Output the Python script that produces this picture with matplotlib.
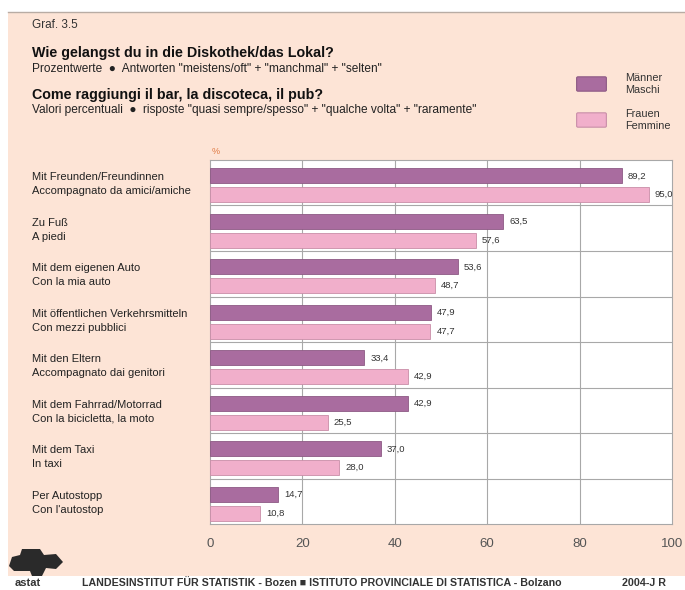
import numpy as np
import matplotlib.pyplot as plt
import matplotlib.transforms as mtransforms
from matplotlib.patches import Rectangle, FancyBboxPatch, Polygon

plt.rcParams["font.family"] = ["Liberation Sans", "DejaVu Sans"]

labels_de = ["Mit Freunden/Freundinnen", "Zu Fuß", "Mit dem eigenen Auto",
             "Mit öffentlichen Verkehrsmitteln", "Mit den Eltern",
             "Mit dem Fahrrad/Motorrad", "Mit dem Taxi", "Per Autostopp"]
labels_it = ["Accompagnato da amici/amiche", "A piedi", "Con la mia auto",
             "Con mezzi pubblici", "Accompagnato dai genitori",
             "Con la bicicletta, la moto", "In taxi", "Con l'autostop"]
maenner = [89.2, 63.5, 53.6, 47.9, 33.4, 42.9, 37.0, 14.7]
frauen = [95.0, 57.6, 48.7, 47.7, 42.9, 25.5, 28.0, 10.8]
xticks = [0, 20, 40, 60, 80, 100]

c_m = "#a96c9f"
c_f = "#f1afcb"
bg = "#fde4d6"

fig = plt.figure(figsize=(6.85, 5.90), dpi=100)
W, H = 685, 590


def fx(px):
    return px / W


def fy(py):
    return 1 - py / H


# peach panel
fig.patches.append(Rectangle((fx(8), fy(576)), 1 - fx(8), fy(12) - fy(576),
                             transform=fig.transFigure, facecolor=bg,
                             edgecolor="none", zorder=-5))
fig.lines.append(plt.Line2D([fx(8), 1], [fy(12), fy(12)], transform=fig.transFigure,
                            color="#b8aca4", lw=1, zorder=-4))

ax = fig.add_axes([fx(210), fy(524), fx(672 - 210), fy(160) - fy(524)])
ax.set_zorder(2)
ax.set_facecolor("white")
n = len(maenner)
idx = np.arange(n)
h = 0.33
ax.barh(idx + 0.35, maenner, height=h, color=c_m, edgecolor="#8d5a84", lw=0.6, zorder=3)
ax.barh(idx + 0.76, frauen, height=h, color=c_f, edgecolor="#c98ea8", lw=0.6, zorder=3)
ax.set_xlim(0, 100)
ax.set_ylim(n, 0)

lab_tr = mtransforms.blended_transform_factory(fig.transFigure, ax.transData)
for i in range(n):
    ax.text(maenner[i] + 1.3, i + 0.35, f"{maenner[i]:.1f}".replace(".", ","),
            va="center", ha="left", fontsize=6.8, color="#333333", zorder=4,
            clip_on=False)
    ax.text(frauen[i] + 1.3, i + 0.76, f"{frauen[i]:.1f}".replace(".", ","),
            va="center", ha="left", fontsize=6.8, color="#333333", zorder=4,
            clip_on=False)
    ax.text(fx(32), i + 0.38, labels_de[i], fontsize=8, va="center", ha="left",
            color="#222222", transform=lab_tr, clip_on=False)
    ax.text(fx(32), i + 0.69, labels_it[i], fontsize=8, va="center", ha="left",
            color="#222222", transform=lab_tr, clip_on=False)

ax.set_xticks(xticks)
ax.set_yticks([])
for x in xticks[1:-1]:
    ax.axvline(x, color="#a8a8a8", lw=0.8, zorder=1)
for i in range(1, n):
    ax.axhline(i, color="#a8a8a8", lw=0.8, zorder=1)
for s in ax.spines.values():
    s.set_color("#a8a8a8")
    s.set_linewidth(0.8)
ax.tick_params(axis="x", length=0, pad=10, labelsize=9.5, labelcolor="#555555")

fig.text(fx(212), fy(151), "%", fontsize=6.5, color="#e07840", va="center")

# titles
fig.text(fx(32), fy(25), "Graf. 3.5", fontsize=8.5, va="center", color="#333333")
fig.text(fx(32), fy(53), "Wie gelangst du in die Diskothek/das Lokal?", fontsize=10.3,
         fontweight="bold", va="center", color="#111111")
fig.text(fx(32), fy(69), "Prozentwerte  \u25CF  Antworten \"meistens/oft\" + \"manchmal\" + \"selten\"",
         fontsize=8.6, va="center", color="#222222")
fig.text(fx(32), fy(95), "Come raggiungi il bar, la discoteca, il pub?", fontsize=10.3,
         fontweight="bold", va="center", color="#111111")
fig.text(fx(32), fy(110), "Valori percentuali  \u25CF  risposte \"quasi sempre/spesso\" + \"qualche volta\" + \"raramente\"",
         fontsize=8.6, va="center", color="#222222")

# legend
for yc, col, ec, t1, t2 in [(84, c_m, "#8d5a84", "Männer", "Maschi"),
                            (120, c_f, "#c98ea8", "Frauen", "Femmine")]:
    fig.patches.append(FancyBboxPatch((fx(578), fy(yc + 6)), fx(27), fy(yc - 6) - fy(yc + 6),
                                      boxstyle="round,pad=0.002", transform=fig.transFigure,
                                      facecolor=col, edgecolor=ec, lw=0.8))
    fig.text(fx(625), fy(yc - 6), t1, fontsize=7.8, va="center", color="#333333")
    fig.text(fx(625), fy(yc + 6), t2, fontsize=7.8, va="center", color="#333333")

# logo approximation
logo = Polygon([[fx(9), fy(566)], [fx(12), fy(557)], [fx(20), fy(555)], [fx(22), fy(549)],
                [fx(40), fy(549)], [fx(44), fy(555)], [fx(56), fy(554)], [fx(63), fy(562)],
                [fx(56), fy(569)], [fx(46), fy(568)], [fx(42), fy(576)], [fx(32), fy(576)],
                [fx(30), fy(571)], [fx(14), fy(571)]], closed=True,
               transform=fig.transFigure, facecolor="#2a2a2a", edgecolor="none")
fig.patches.append(logo)

fig.text(fx(15), fy(583), "astat", fontsize=8, fontweight="bold", va="center", color="#333333")
fig.text(fx(82), fy(583), "LANDESINSTITUT FÜR STATISTIK - Bozen \u25A0 ISTITUTO PROVINCIALE DI STATISTICA - Bolzano",
         fontsize=7.7, fontweight="bold", va="center", color="#333333")
fig.text(fx(622), fy(583), "2004-J R", fontsize=7.7, fontweight="bold", va="center", color="#333333")

fig.savefig("out.png", dpi=100, facecolor="white")
